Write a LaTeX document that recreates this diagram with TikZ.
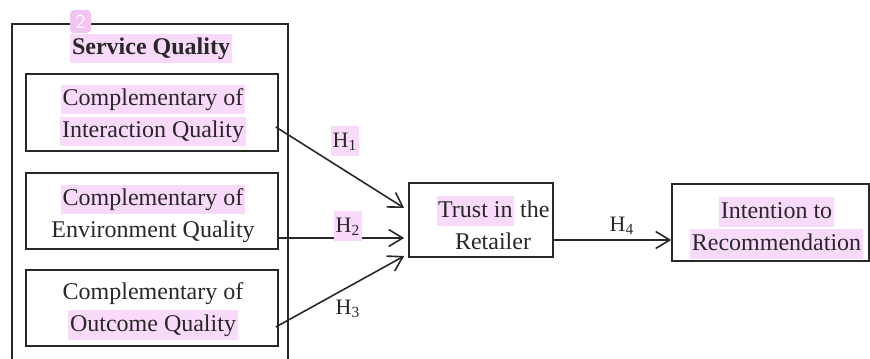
\documentclass[tikz,border=0pt]{standalone}
\usepackage{fontspec}
\setmainfont{Liberation Serif}
\usetikzlibrary{arrows.meta,calc}
\definecolor{hl}{RGB}{250,218,250}
\definecolor{tagc}{RGB}{242,196,242}
\definecolor{ink}{RGB}{40,40,40}
\newcommand{\hlt}[1]{{\setlength{\fboxsep}{0.8pt}\colorbox{hl}{\vrule height 9.6pt depth 3.4pt width 0pt #1}}}
\begin{document}
\begin{tikzpicture}[x=0.5pt,y=-0.5pt,
  box/.style={draw=ink,line width=0.8pt,rectangle,inner sep=0pt},
  txt/.style={inner sep=0pt,align=center,font=\fontsize{12}{16}\selectfont,text=ink},
  arr/.style={draw=ink,line width=0.8pt,-{Straight Barb[length=7pt,width=8.5pt,line width=0.8pt]}},
  hlab/.style={font=\fontsize{11}{13}\selectfont,text=ink,inner sep=0pt}]
\clip (0,0) rectangle (870,358);
\fill[white] (0,0) rectangle (870,358);
\node[box,minimum width=138pt,minimum height=168pt] (sq) at (150,192) {};
\node[txt,font=\bfseries\fontsize{12}{16}\selectfont] (sqt) at (151,48.5) {\hlt{Service Quality}};
\node[fill=tagc,rounded corners=2pt,minimum width=10.5pt,minimum height=11.5pt,inner sep=0pt,text=white,font=\sffamily\fontsize{10}{10}\selectfont] (tag) at (80.5,21.5) {2};
\node[box,minimum width=126pt,minimum height=38.5pt] (b1) at (152,112.5) {};
\node[txt] (b1t) at (153,115.5) {\hlt{Complementary of}\\\hlt{Interaction Quality}};
\node[box,minimum width=126pt,minimum height=38pt] (b2) at (152,211) {};
\node[txt] (b2t) at (153,213.5) {\hlt{Complementary of}\\Environment Quality};
\node[box,minimum width=126pt,minimum height=38pt] (b3) at (152,308) {};
\node[txt] (b3t) at (153,311) {Complementary of\\\hlt{Outcome Quality}};
\node[box,minimum width=72pt,minimum height=37pt] (tr) at (481,220) {};
\node[txt] (trt) at (493,223) {\hlt{Trust in} the\\Retailer};
\node[box,minimum width=98.5pt,minimum height=38.5pt] (ir) at (770.5,222.5) {};
\node[txt] (irt) at (776.5,228) {\hlt{Intention to}\\\hlt{Recommendation}};
\draw[arr] ($(b1.east)+(-3,14.5)$) -- ($(tr.west)+(-4,-12)$);
\draw[arr] ($(b2.east)+(0,27)$) -- ($(tr.west)+(-4,18)$);
\draw[arr] ($(b3.east)+(-3,19)$) -- ($(tr.west)+(-4,36)$);
\draw[arr] ($(tr.east)+(0,20)$) -- ($(ir.west)+(0,17.5)$);
\node[hlab] (h1) at (345,141) {\hlt{H\textsubscript{1}}};
\node[hlab] (h2) at (348,226) {\hlt{H\textsubscript{2}}};
\node[hlab] (h3) at (348,309) {H\textsubscript{3}};
\node[hlab] (h4) at (622,226) {H\textsubscript{4}};
\end{tikzpicture}
\end{document}
